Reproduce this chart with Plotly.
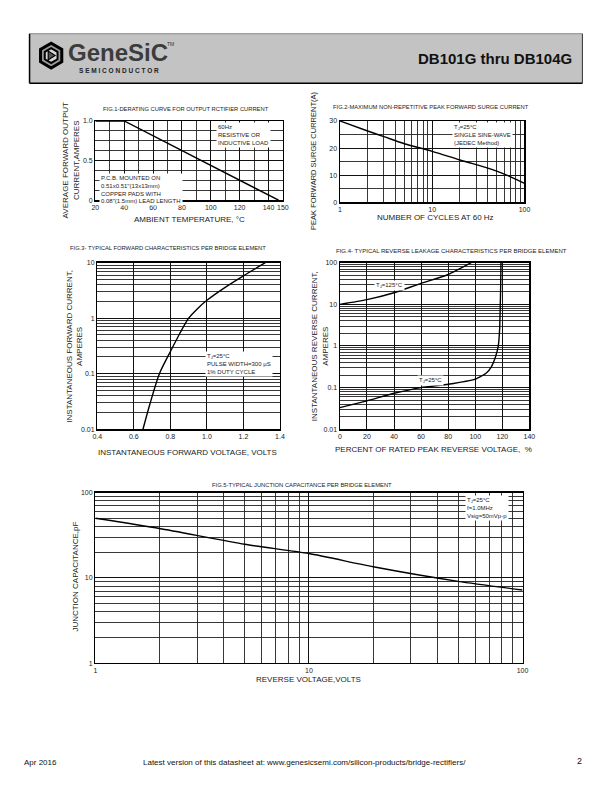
import math
import plotly.graph_objects as go

W, H = 612, 792
FONT = "Liberation Sans, Arial, Helvetica, sans-serif"

# ---------------- data ----------------
# Fig.1 derating curve
fig1_temp_c = [20, 40, 147]
fig1_current_a = [1.0, 1.0, 0.0]
fig1_xticks = [20, 40, 60, 80, 100, 120, 140, 150]
fig1_xminor = [30, 50, 70, 90, 110, 130]
fig1_yticks = [0, 0.5, 1.0]
fig1_yticktext = ["0", "0.5", "1.0"]
fig1_yminor = [0.125, 0.25, 0.375, 0.625, 0.75, 0.875]

# Fig.2 surge current
fig2_cycles = [1, 2, 3, 5, 10, 20, 50, 100]
fig2_surge_a = [30, 26.3, 24.2, 21.6, 18.8, 15.6, 11.5, 7.0]
fig2_xticks = [1, 10, 100]
fig2_yticks = [0, 10, 20, 30]
fig2_yminor = [5, 15, 25]

# Fig.3 forward characteristics
fig3_volts = [0.65, 0.69, 0.74, 0.80, 0.85, 0.90, 0.95, 1.00, 1.10, 1.20, 1.32]
fig3_amps = [0.01, 0.03, 0.1, 0.25, 0.52, 1.0, 1.5, 2.1, 3.6, 5.8, 10]
fig3_xticks = [0.4, 0.6, 0.8, 1.0, 1.2, 1.4]
fig3_xticktext = ["0.4", "0.6", "0.8", "1.0", "1.2", "1.4"]
fig3_yticks = [0.01, 0.1, 1, 10]
fig3_yticktext = ["0.01", "0.1", "1", "10"]

# Fig.4 reverse leakage
fig4_pct_125 = [0, 20, 40, 60, 80, 97]
fig4_i_125 = [10, 13, 19, 32, 52, 100]
fig4_pct_25 = [0, 20, 40, 60, 80, 100, 108, 112, 115, 117, 118, 118.5, 118.8, 119]
fig4_i_25 = [0.033, 0.048, 0.073, 0.1, 0.12, 0.16, 0.22, 0.32, 0.55, 1.0, 2.5, 10, 30, 100]
fig4_xticks = [0, 20, 40, 60, 80, 100, 120, 140]
fig4_yticks = [0.01, 0.1, 1, 10, 100]
fig4_yticktext = ["0.01", "0.1", "1", "10", "100"]

# Fig.5 junction capacitance
fig5_volts = [1, 2, 5, 10, 20, 50, 100]
fig5_cap_pf = [50, 38, 24.8, 19.3, 13.5, 9.1, 7.2]
fig5_ticks = [1, 10, 100]


def log_minor(decades):
    return [m * 10 ** d for d in decades for m in range(2, 10)]


# ---------------- helpers ----------------
def px(x):
    return x / W


def py(y):
    return 1 - y / H


def dom_x(a, b):
    return [px(a), px(b)]


def dom_y(top, bottom):
    return [py(bottom), py(top)]


def axis(domain, anchor, rng, typ, tickvals, ticktext=None, minor=None):
    d = dict(domain=domain, anchor=anchor, range=rng, type=typ,
             tickmode="array", tickvals=tickvals,
             ticktext=ticktext if ticktext is not None else [str(v) for v in tickvals],
             showgrid=True, gridcolor="#111", gridwidth=1,
             showline=True, mirror=True, linecolor="black", linewidth=1.3,
             ticks="", zeroline=False, fixedrange=True,
             tickfont=dict(family=FONT, size=7, color="#222"))
    if minor:
        d["minor"] = dict(tickmode="array", tickvals=minor, showgrid=True,
                          gridcolor="#222", gridwidth=0.9, ticks="")
    return d


annotations = []


def A(text, x, y, size=6, xa="center", ya="middle", angle=0, bg=None,
      bold=False, color="#222", align="left"):
    t = f"<b>{text}</b>" if bold else text
    a = dict(text=t, x=px(x), y=py(y), xref="paper", yref="paper",
             xanchor=xa, yanchor=ya, showarrow=False, textangle=angle,
             align=align, font=dict(family=FONT, size=size, color=color))
    if bg:
        a["bgcolor"] = bg
        a["borderpad"] = 1
    annotations.append(a)


fig = go.Figure()
LINE = dict(color="black", width=1.4)

fig.add_trace(go.Scatter(x=fig1_temp_c, y=fig1_current_a, mode="lines", line=LINE,
                         xaxis="x", yaxis="y", showlegend=False, hoverinfo="skip"))
fig.add_trace(go.Scatter(x=fig2_cycles, y=fig2_surge_a, mode="lines",
                         line=dict(color="black", width=1.4, shape="spline"),
                         xaxis="x2", yaxis="y2", showlegend=False, hoverinfo="skip"))
fig.add_trace(go.Scatter(x=fig3_volts, y=fig3_amps, mode="lines",
                         line=dict(color="black", width=1.4, shape="spline", smoothing=0.8),
                         xaxis="x3", yaxis="y3", showlegend=False, hoverinfo="skip"))
fig.add_trace(go.Scatter(x=fig4_pct_125, y=fig4_i_125, mode="lines",
                         line=dict(color="black", width=1.4, shape="spline", smoothing=0.6),
                         xaxis="x4", yaxis="y4", showlegend=False, hoverinfo="skip"))
fig.add_trace(go.Scatter(x=fig4_pct_25, y=fig4_i_25, mode="lines",
                         line=dict(color="black", width=1.4, shape="spline", smoothing=0.4),
                         xaxis="x4", yaxis="y4", showlegend=False, hoverinfo="skip"))
fig.add_trace(go.Scatter(x=fig5_volts, y=fig5_cap_pf, mode="lines",
                         line=dict(color="black", width=1.4, shape="spline", smoothing=0.6),
                         xaxis="x5", yaxis="y5", showlegend=False, hoverinfo="skip"))

layout = dict(
    width=W, height=H, autosize=False,
    margin=dict(l=0, r=0, t=0, b=0),
    paper_bgcolor="white", plot_bgcolor="white",
    showlegend=False,
    font=dict(family=FONT, size=7, color="#222"),
)

# Fig.1
layout["xaxis"] = axis(dom_x(92, 283), "y", [20, 150], "linear", fig1_xticks, minor=fig1_xminor)
layout["yaxis"] = axis(dom_y(118, 198), "x", [0, 1.0], "linear", fig1_yticks, fig1_yticktext, fig1_yminor)
# Fig.2
layout["xaxis2"] = axis(dom_x(341, 529), "y2", [0, 2], "log", fig2_xticks, minor=log_minor([0, 1]))
layout["yaxis2"] = axis(dom_y(118, 200), "x2", [0, 30], "linear", fig2_yticks, minor=fig2_yminor)
# Fig.3
layout["xaxis3"] = axis(dom_x(94, 280), "y3", [0.4, 1.4], "linear", fig3_xticks, fig3_xticktext)
layout["yaxis3"] = axis(dom_y(261, 429), "x3", [-2, 1], "log", fig3_yticks, fig3_yticktext,
                        log_minor([-2, -1, 0]))
# Fig.4
layout["xaxis4"] = axis(dom_x(341, 534), "y4", [0, 140], "linear", fig4_xticks)
layout["yaxis4"] = axis(dom_y(261, 429), "x4", [-2, 2], "log", fig4_yticks, fig4_yticktext,
                        log_minor([-2, -1, 0, 1]))
# Fig.5
layout["xaxis5"] = axis(dom_x(92, 527), "y5", [0, 2], "log", fig5_ticks, minor=log_minor([0, 1]))
layout["yaxis5"] = axis(dom_y(493, 665), "x5", [0, 2], "log", fig5_ticks, minor=log_minor([0, 1]))

# ---------------- texts ----------------
# Fig.1
A("FIG.1-DERATING CURVE FOR OUTPUT RCTIFIER CURRENT", 184, 106, 5.8)
A("AVERAGE FORWARD OUTPUT<br>CURRENT,AMPERES", 67, 158, 8, angle=-90, align="center")
A("AMBIENT TEMPERATURE, °C", 188, 217, 8)
A("60Hz<br>RESISTIVE OR<br>INDUCTIVE LOAD", 215, 119, 6, xa="left", ya="top", bg="white")
A("P.C.B. MOUNTED ON<br>0.51x0.51\"(13x13mm)<br>COPPER PADS WITH<br>0.08\"(1.5mm) LEAD LENGTH",
  96, 171, 6, xa="left", ya="top", bg="white")
# Fig.2
A("FIG.2-MAXIMUM NON-REPETITIVE PEAK FORWARD SURGE CURRENT", 434, 104, 5.8)
A("PEAK FORWARD SURGE CURRENT(A)", 314, 158, 7.5, angle=-90)
A("NUMBER OF CYCLES AT 60 Hz", 438, 215, 8)
A("T<sub>J</sub>=25°C<br>SINGLE SINE-WAVE<br>(JEDEC Method)", 455, 119, 6, xa="left", ya="top", bg="white")
# Fig.3
A("FIG.3- TYPICAL FORWARD CHARACTERISTICS PER BRIDGE ELEMENT", 166, 246, 5.8)
A("INSTANTANEOUS FORWARD CURRENT,<br>AMPERES", 71, 345, 8, angle=-90, align="center")
A("INSTANTANEOUS FORWARD VOLTAGE, VOLTS", 186, 452, 8)
A("T<sub>J</sub>=25°C<br>PULSE WIDTH=300 μS<br>1% DUTY CYCLE", 204, 350, 6, xa="left", ya="top", bg="white")
# Fig.4
A("FIG.4- TYPICAL REVERSE LEAKAGE CHARACTERISTICS PER BRIDGE ELEMENT", 455, 249, 6)
A("INSTANTANEOUS REVERSE CURRENT,<br>AMPERES", 321, 345, 8, angle=-90, align="center")
A("PERCENT OF RATED PEAK REVERSE VOLTAGE,  %", 436, 449, 8)
A("T<sub>J</sub>=125°C", 392, 284, 6, bg="white")
A("T<sub>J</sub>=25°C", 433, 380, 6, bg="white")
# Fig.5
A("FIG.5-TYPICAL JUNCTION CAPACITANCE PER BRIDGE ELEMENT", 302, 485, 5.8)
A("JUNCTION CAPACITANCE,pF", 72, 578, 8, angle=-90)
A("REVERSE VOLTAGE,VOLTS", 309, 682, 8)
A("T<sub>J</sub>=25°C<br>f=1.0MHz<br>Vsig=50mVp-p", 468, 495, 6, xa="left", ya="top", bg="white")

# ---------------- header ----------------
shapes = []
shapes.append(dict(type="rect", xref="paper", yref="paper", x0=px(25), x1=px(588),
                   y0=py(80), y1=py(30), fillcolor="#c3c3c3", line=dict(width=0), layer="below"))
shapes.append(dict(type="line", xref="paper", yref="paper", x0=px(25), x1=px(588),
                   y0=py(30), y1=py(30), line=dict(color="#888", width=1)))
shapes.append(dict(type="line", xref="paper", yref="paper", x0=px(25), x1=px(25),
                   y0=py(30), y1=py(80), line=dict(color="black", width=1.5)))
shapes.append(dict(type="line", xref="paper", yref="paper", x0=px(25), x1=px(588),
                   y0=py(80), y1=py(80), line=dict(color="black", width=1.5)))
shapes.append(dict(type="line", xref="paper", yref="paper", x0=px(588), x1=px(588),
                   y0=py(30), y1=py(80), line=dict(color="#333", width=1)))


def hex_path(cx, cy, r):
    pts = []
    for k in range(6):
        ang = math.radians(60 * k + 30)
        pts.append((cx + r * math.cos(ang), cy + r * math.sin(ang)))
    return "M " + " L ".join(f"{px(x):.5f},{py(y):.5f}" for x, y in pts) + " Z"


shapes.append(dict(type="path", xref="paper", yref="paper", path=hex_path(47, 52, 12.5),
                   line=dict(color="black", width=3), fillcolor="#9a9a9a"))
shapes.append(dict(type="path", xref="paper", yref="paper", path=hex_path(47, 52, 7.5),
                   line=dict(color="black", width=2), fillcolor="#d8d8d8"))
tri = [(44, 47.5), (44, 56.5), (51, 52)]
shapes.append(dict(type="path", xref="paper", yref="paper",
                   path="M " + " L ".join(f"{px(x):.5f},{py(y):.5f}" for x, y in tri) + " Z",
                   line=dict(color="black", width=1.2), fillcolor="#555"))

A("GeneSiC", 62, 49, 24, xa="left", bold=True, color="#3c3c3c")
A("TM", 163, 40, 5, xa="left", color="#333")
A("S E M I C O N D U C T O R", 73, 67, 6.5, xa="left", bold=True, color="#222")
A("DB101G thru DB104G", 579, 55, 15, xa="right", bold=True, color="#111")

# ---------------- footer ----------------
A("Apr 2016", 17, 765, 8, xa="left", color="#111")
A("Latest version of this datasheet at: www.genesicsemi.com/silicon-products/bridge-rectifiers/",
  305, 765, 8, color="#111")
A("2", 590, 764, 9, xa="right", color="#111")

layout["annotations"] = annotations
layout["shapes"] = shapes
fig.update_layout(**layout)

fig.write_html("out.html", config={"displayModeBar": False, "staticPlot": True},
               post_script="document.body.style.margin='0';")
